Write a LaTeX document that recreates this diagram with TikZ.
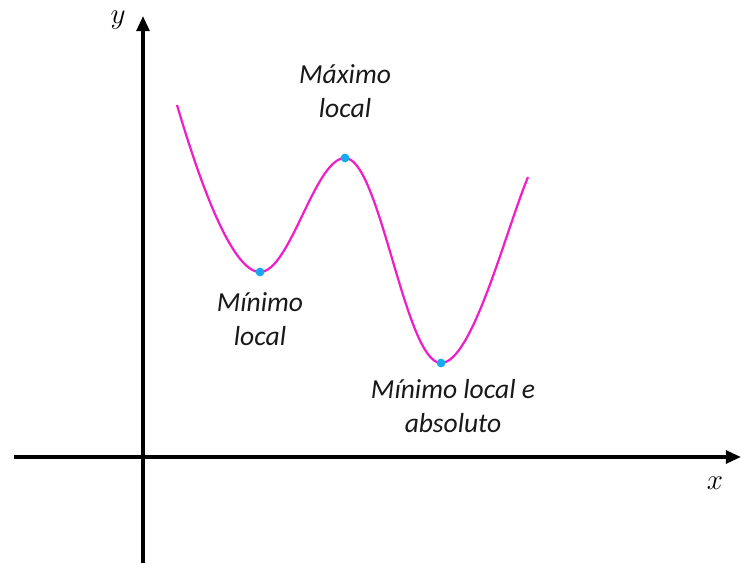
\documentclass[tikz,border=0pt]{standalone}
\usepackage{fontspec}
\setmainfont{Carlito}
\definecolor{curvemagenta}{RGB}{240,30,200}
\definecolor{pointcyan}{RGB}{20,170,240}
\usetikzlibrary{arrows.meta,positioning}

\begin{document}
\begin{tikzpicture}[x=0.03cm,y=0.03cm,
    axisline/.style={line width=3pt,-{Triangle[length=13pt,width=11pt]}},
    extremept/.style={circle,fill=pointcyan,inner sep=0pt,minimum size=7.5pt},
    lbl/.style={align=center,font=\fontsize{23.5}{28.5}\selectfont\itshape,text=black!90}]
    \useasboundingbox (0,0) rectangle (741,563);
    % axes
    \coordinate (xstart) at (14,106);
    \coordinate (xend) at (741,106);
    \coordinate (ystart) at (143,0);
    \coordinate (yend) at (143,547);
    \draw[axisline] (xstart) -- (xend);
    \draw[axisline] (ystart) -- (yend);
    \node (ylab) at (118,543) {\fontsize{31}{33}\selectfont$y$};
    \node (xlab) at (715,80) {\fontsize{31}{33}\selectfont$x$};
    % curve
    \coordinate (c0) at (177,458);
    \coordinate (mina) at (260,291);
    \coordinate (maxa) at (345,405);
    \coordinate (minb) at (441,200);
    \coordinate (c4) at (528,386);
    \draw[curvemagenta,line width=1.9pt]
        (c0) .. controls (200,380) and (232,291) .. (mina)
        .. controls (290,291) and (315,405) .. (maxa)
        .. controls (380,405) and (405,200) .. (minb)
        .. controls (472,200) and (505,330) .. (c4);
    \node[extremept] (minapt) at (mina) {};
    \node[extremept] (maxapt) at (maxa) {};
    \node[extremept] (minbpt) at (minb) {};
    % labels
    \node[lbl] (maxlbl) at (345,472) {Máximo\\local};
    \node[lbl] (minlbl) at (260,244) {Mínimo\\local};
    \node[lbl] (abslbl) at (453,157) {Mínimo local e\\absoluto};
\end{tikzpicture}
\end{document}
